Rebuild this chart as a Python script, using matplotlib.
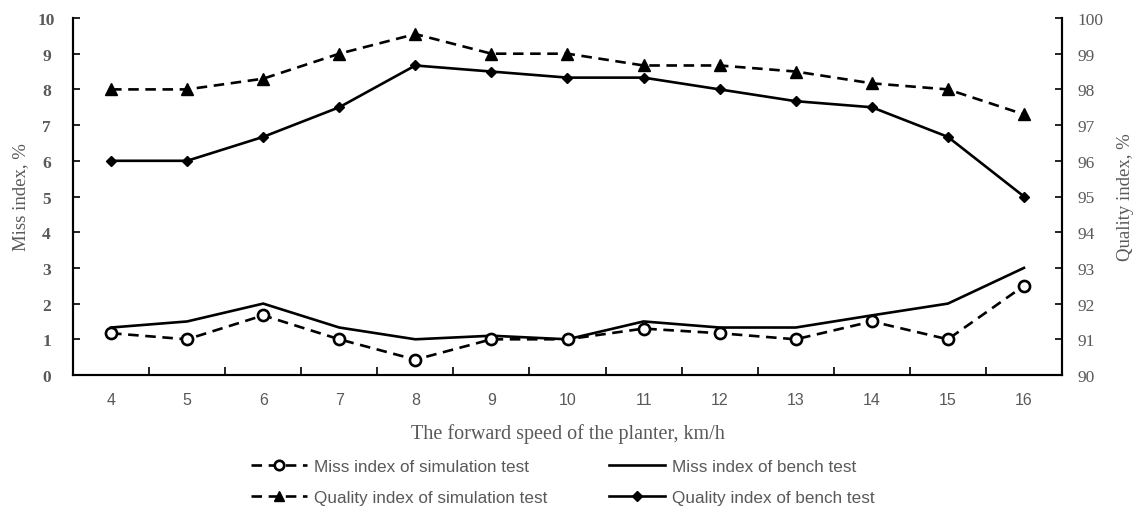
import numpy as np
import matplotlib.pyplot as plt

# forward speed, km/h
speed = [4, 5, 6, 7, 8, 9, 10, 11, 12, 13, 14, 15, 16]

# miss index, %
miss_sim = [1.17, 1.0, 1.67, 1.0, 0.43, 1.0, 1.0, 1.3, 1.17, 1.0, 1.5, 1.0, 2.5]
miss_bench = [1.33, 1.5, 2.0, 1.33, 1.0, 1.1, 1.0, 1.5, 1.33, 1.33, 1.67, 2.0, 3.0]

# quality index, %
quality_sim = [98.0, 98.0, 98.3, 99.0, 99.55, 99.0, 99.0, 98.67, 98.67, 98.5, 98.17, 98.0, 97.3]
quality_bench = [96.0, 96.0, 96.67, 97.5, 98.67, 98.5, 98.33, 98.33, 98.0, 97.67, 97.5, 96.67, 95.0]

gray = '#595959'
serif = 'Liberation Serif'
sans = 'Liberation Sans'

fig = plt.figure(figsize=(11.34, 5.10), dpi=100)
ax = fig.add_axes([73 / 1134, 1 - 376 / 510, (1062 - 73) / 1134, (376 - 19) / 510])
ax2 = ax.twinx()

x = np.array(speed)

l_ms, = ax.plot(x, miss_sim, color='black', linestyle=(0, (4, 2.5)), linewidth=1.9,
                marker='o', markersize=8, markerfacecolor='white', markeredgewidth=1.9,
                label='Miss index of simulation test', zorder=3)
l_mb, = ax.plot(x, miss_bench, color='black', linewidth=1.9,
                label='Miss index of bench test', zorder=2)
l_qs, = ax2.plot(x, quality_sim, color='black', linestyle=(0, (4, 2.5)), linewidth=1.9,
                 marker='^', markersize=8, label='Quality index of simulation test')
l_qb, = ax2.plot(x, quality_bench, color='black', linewidth=1.9,
                 marker='D', markersize=5.5, label='Quality index of bench test')

ax.set_xlim(3.5, 16.5)
ax.set_ylim(0, 10)
ax2.set_ylim(90, 100)

ax.set_xticks(speed)
ax.set_xticks(np.arange(4.5, 16, 1), minor=True)
ax.tick_params(axis='x', which='major', length=0, pad=12, labelsize=11.5, labelcolor=gray)
ax.tick_params(axis='x', which='minor', direction='in', length=6, width=1.2)
for lab in ax.get_xticklabels():
    lab.set_fontfamily(sans)

ax.set_yticks(range(0, 11))
ax.tick_params(axis='y', direction='in', length=5, width=1.2, pad=19, labelsize=12.5, labelcolor=gray)
for lab in ax.get_yticklabels():
    lab.set_fontfamily(serif)
    lab.set_fontweight('bold')
    lab.set_horizontalalignment('center')

ax2.set_yticks(range(90, 101))
ax2.tick_params(axis='y', direction='in', length=5, width=1.2, pad=11, labelsize=12.5, labelcolor=gray)
for lab in ax2.get_yticklabels():
    lab.set_fontfamily(serif)

for a in (ax, ax2):
    a.spines['top'].set_visible(False)
    for s in ('left', 'right', 'bottom'):
        a.spines[s].set_linewidth(1.5)

ax.set_ylabel('Miss index, %', fontfamily=serif, fontsize=13.5, color=gray, labelpad=6)
ax2.set_ylabel('Quality index, %', fontfamily=serif, fontsize=13.5, color=gray, labelpad=10)
ax.set_xlabel('The forward speed of the planter, km/h', fontfamily=serif, fontsize=14.5,
              color=gray, labelpad=12)

handles = [l_ms, l_qs, l_mb, l_qb]
leg = fig.legend(handles=handles, labels=[h.get_label() for h in handles], ncol=2,
                 loc='lower center', bbox_to_anchor=(0.496, -0.022), frameon=False,
                 prop={'family': sans, 'size': 12.3}, labelcolor=gray,
                 handlelength=3.3, handletextpad=0.4, columnspacing=3.6, labelspacing=0.95,
                 markerscale=0.85)

fig.savefig('out.png', dpi=100)
